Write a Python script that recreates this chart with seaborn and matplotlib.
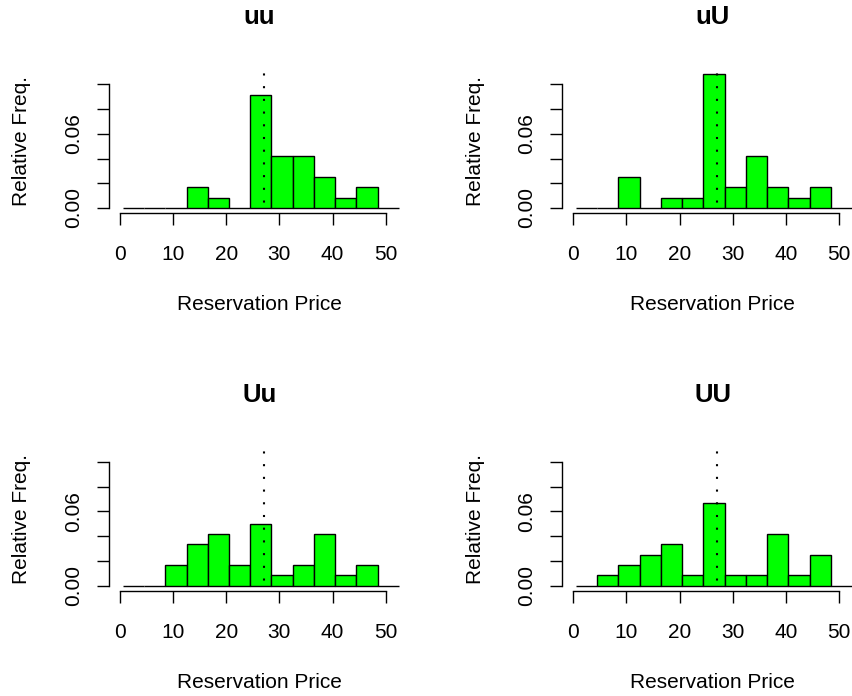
import matplotlib
matplotlib.use("Agg")
import numpy as np
import pandas as pd
import matplotlib.pyplot as plt
import seaborn as sns

# bins of the reservation price histograms (width 4)
bin_edges = [0.5, 4.5, 8.5, 12.5, 16.5, 20.5, 24.5, 28.5, 32.5, 36.5, 40.5, 44.5, 48.5, 52.5]
bin_mids = [2.5, 6.5, 10.5, 14.5, 18.5, 22.5, 26.5, 30.5, 34.5, 38.5, 42.5, 46.5, 50.5]

# counts per bin (30 subjects per treatment)
counts_uu = [0, 0, 0, 2, 1, 0, 11, 5, 5, 3, 1, 2, 0]
counts_uU = [0, 0, 3, 0, 1, 1, 13, 2, 5, 2, 1, 2, 0]
counts_Uu = [0, 0, 2, 4, 5, 2, 6, 1, 2, 5, 1, 2, 0]
counts_UU = [0, 1, 2, 3, 4, 1, 8, 1, 1, 5, 1, 3, 0]

panel_titles = ["uu", "uU", "Uu", "UU"]
panel_counts = [counts_uu, counts_uU, counts_Uu, counts_UU]

ref_price = 27
x_ticks = [0, 10, 20, 30, 40, 50]
y_ticks = [0.00, 0.02, 0.04, 0.06, 0.08, 0.10]
y_tick_labels = ["0.00", "", "", "0.06", "", ""]

# long table for seaborn
df = pd.concat([
    pd.DataFrame({"price": bin_mids, "count": c, "group": t})
    for t, c in zip(panel_titles, panel_counts)
], ignore_index=True)

sns.set_style("ticks", rc={"text.color": "black", "axes.labelcolor": "black",
                           "xtick.color": "black", "ytick.color": "black",
                           "axes.edgecolor": "black"})
plt.rcParams["font.family"] = ["Liberation Sans", "DejaVu Sans"]

fig = plt.figure(figsize=(8.53, 6.96), dpi=100)

# axes boxes (left, bottom) in figure fractions, R-like layout
lefts = [0.1278, 0.6591, 0.1278, 0.6591]
bottoms = [0.6935, 0.6935, 0.1509, 0.1509]
w, h = 0.3529, 0.2078
y_top = 0.1127

for i, t in enumerate(panel_titles):
    ax = fig.add_axes([lefts[i], bottoms[i], w, h])
    sub = df[df["group"] == t]
    sns.histplot(data=sub, x="price", weights="count", bins=bin_edges,
                 stat="density", color="#00FF00", edgecolor="black",
                 linewidth=1.0, alpha=1, ax=ax)
    # dotted reference line from the baseline up
    ax.vlines(ref_price, 0, y_top, color="black", lw=1.5,
              linestyle=(3.5, (1, 5.1)))

    ax.set_xlim(-2.1, 54.6)
    ax.set_ylim(-0.00433, y_top)

    # detached R-style axes
    for s in ["top", "right"]:
        ax.spines[s].set_visible(False)
    ax.spines["left"].set_bounds(0, 0.10)
    ax.spines["bottom"].set_bounds(0, 50)
    for s in ["left", "bottom"]:
        ax.spines[s].set_linewidth(1.0)
        ax.spines[s].set_color("black")

    ax.set_xticks(x_ticks)
    ax.set_xticklabels([str(v) for v in x_ticks])
    ax.set_yticks(y_ticks)
    ax.set_yticklabels(y_tick_labels)
    ax.tick_params(axis="x", bottom=True, length=8.9, width=1.0, pad=14.2,
                   labelsize=15, direction="out", color="black",
                   labelcolor="black")
    ax.tick_params(axis="y", left=True, length=8.9, width=1.0, pad=10,
                   labelsize=15, direction="out", color="black",
                   labelcolor="black", labelrotation=90)
    for lbl in ax.get_yticklabels():
        lbl.set_va("center")

    ax.set_title(t, fontsize=18.5, fontweight="bold", pad=32, color="black")
    ax.set_xlabel("Reservation Price", fontsize=15, color="black")
    ax.set_ylabel("Relative Freq.", fontsize=15, color="black")
    ax.xaxis.set_label_coords(0.5, -0.565)
    ax.yaxis.set_label_coords(-0.258, 0.5)

fig.savefig("out.png", dpi=100)
